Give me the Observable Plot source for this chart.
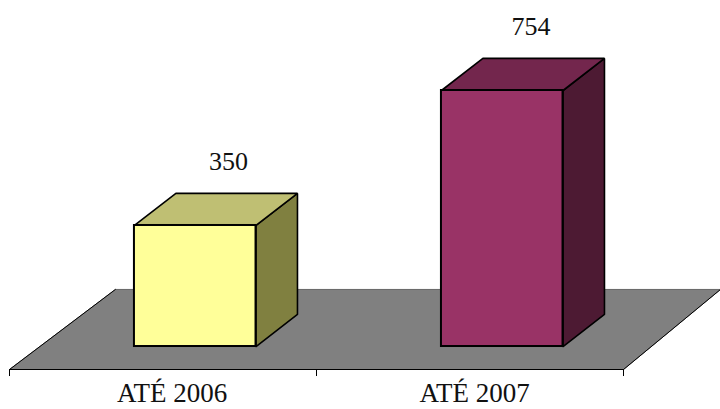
<!DOCTYPE html>
<html>
<head>
<meta charset="utf-8">
<script src="https://cdn.jsdelivr.net/npm/d3@7"></script>
<script src="https://cdn.jsdelivr.net/npm/@observablehq/plot@0.6"></script>
<style>
html,body{margin:0;padding:0;background:#fff}
svg{display:block}
</style>
</head>
<body>
<div id="chart"></div>
<script>
// Data
const categories = ["ATÉ 2006", "ATÉ 2007"];
const values = [350, 754];

// Styles per bar
const frontColors = ["#FFFF99", "#993366"];
const topColors = ["#BFBF73", "#73264D"];
const sideColors = ["#808040", "#4D1A33"];

// Layout in scale units
const floorFront = -81, floorBack = 158.6, barBase = -12.2;
const depthX = 0.135, depthY = 96;
const barStart = 0.407, barWidth = 0.396;
const valueLabelX = [0.7135, 1.699], valueLabelLift = 69;
const categoryLabelX = [0.53, 1.515], categoryLabelY = -177;
const tickBottom = -102;

const marks = [];

// floor
const floorPts = [
  {x: 0, y: floorFront}, {x: 2, y: floorFront},
  {x: 2.316, y: floorBack}, {x: 0.345, y: floorBack}, {x: 0, y: floorFront}
];
marks.push(Plot.line(floorPts, {x: "x", y: "y", fill: "#808080", stroke: "#666666", strokeWidth: 1}));
marks.push(Plot.line(floorPts.slice(0, 3), {x: "x", y: "y", stroke: "#000", strokeWidth: 1}));
marks.push(Plot.line([floorPts[3], floorPts[4]], {x: "x", y: "y", stroke: "#000", strokeWidth: 1}));

// bars
values.forEach((v, i) => {
  const x0 = i + barStart, x1 = x0 + barWidth;
  const face = (pts, fill) => Plot.line([...pts, pts[0]].map(([x, y]) => ({x, y})), {
    x: "x", y: "y", fill, stroke: "#000", strokeWidth: 1.6, strokeLinejoin: "miter"
  });
  marks.push(face([[x1, barBase], [x1 + depthX, barBase + depthY], [x1 + depthX, v + depthY], [x1, v]], sideColors[i]));
  marks.push(face([[x0, v], [x1, v], [x1 + depthX, v + depthY], [x0 + depthX, v + depthY]], topColors[i]));
  marks.push(Plot.rect([{x1: x0, x2: x1, y1: barBase, y2: v}], {
    x1: "x1", x2: "x2", y1: "y1", y2: "y2", fill: frontColors[i], stroke: "#000", strokeWidth: 2
  }));
});

// category ticks
marks.push(Plot.ruleX([0, 1, 2], {y1: floorFront, y2: tickBottom, stroke: "#000", strokeWidth: 1}));

// category labels and value labels
const textStyle = {fontFamily: "Liberation Serif", fontSize: 26, fill: "#111", textAnchor: "middle", lineAnchor: "bottom"};
marks.push(Plot.text(categories, {
  x: (d, i) => categoryLabelX[i], y: () => categoryLabelY, text: d => d, ...textStyle, fontSize: 27
}));
marks.push(Plot.text(values, {
  x: (d, i) => valueLabelX[i], y: d => d + valueLabelLift + depthY, text: d => String(d), ...textStyle
}));

const chart = Plot.plot({
  width: 720, height: 409,
  marginTop: 0, marginRight: 0, marginBottom: 0, marginLeft: 0,
  x: {domain: [0, 2], range: [9, 623], axis: null},
  y: {domain: [-81, 754], range: [369, 90], axis: null},
  marks
});
document.getElementById("chart").appendChild(chart);
</script>
</body>
</html>
